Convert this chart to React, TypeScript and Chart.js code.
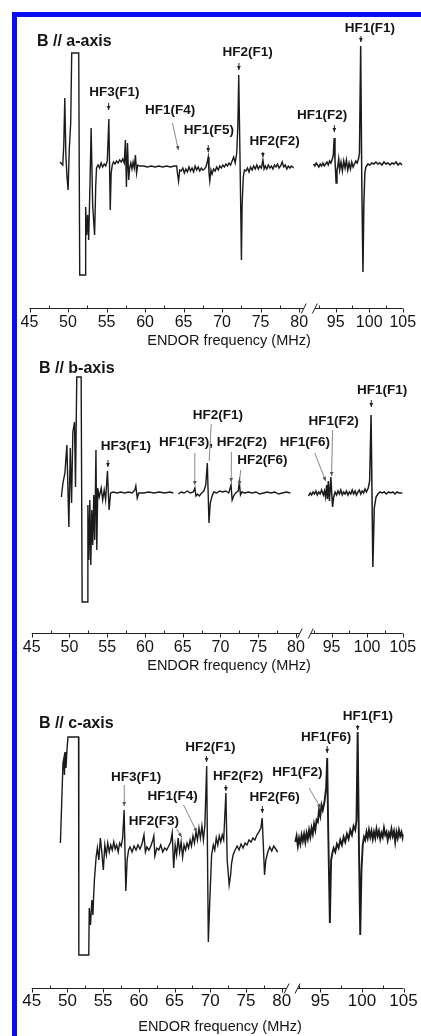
import React, { useEffect, useRef } from 'react';
import { Chart, registerables } from 'chart.js';

Chart.register(...registerables);

const FONT = '"Liberation Sans", Arial, Helvetica, sans-serif';
const INK = '#141414';
const BLUE = '#0c0cf2';
Chart.defaults.font.family = FONT;

// ---------- axis ----------
const majorTicks = [45, 50, 55, 60, 65, 70, 75, 80, 95, 100, 105];
const minorTicks = [47.5, 52.5, 57.5, 62.5, 67.5, 72.5, 77.5, 92.5, 97.5, 102.5];
const axisTitle = 'ENDOR frequency (MHz)';
const panelTitles = ['B // a-axis', 'B // b-axis', 'B // c-axis'];

// ---------- traces: [frequency MHz, intensity (a.u.)] ----------
const aLeft: [number, number | null][] = [[48.94,3],[49.32,0],[49.45,20],[49.58,67],[49.72,10],[49.85,-10],[50.01,-25],[50.16,15],[50.35,42],[50.48,112],[51.39,112],[51.52,-110],[52.23,-110],[52.29,-42],[52.42,-70],[52.55,-50],[52.68,-75],[52.85,-20],[53.0,37],[53.2,-40],[53.45,-70],[53.6,-20],[53.7,-3],[53.9,0],[54.1,-3],[54.3,2],[54.5,-2],[54.7,1],[54.9,-1],[55.1,4],[55.3,46],[55.48,-45],[55.6,-8],[55.75,0],[55.9,3],[56.1,1],[56.3,4],[56.5,2],[56.7,5],[56.9,3],[57.1,6],[57.3,2],[57.45,25],[57.58,-22],[57.72,22],[57.88,-15],[58.0,-3],[58.15,2],[58.3,-4],[58.45,3],[58.6,-3],[58.75,10],[58.9,-8],[59.05,0],[59.3,-1],[59.8,-1],[60.3,-2],[60.8,-1],[61.3,-2],[61.8,-1],[62.3,-2],[62.8,-1],[63.3,-2],[63.8,-1],[64.1,-1],[64.2,-8],[64.35,-16],[64.5,-5],[64.7,-6],[64.9,-3],[65.1,-8],[65.3,-4],[65.5,-7],[65.7,-2],[65.9,-6],[66.1,-3],[66.3,-7],[66.5,-1],[66.7,-5],[66.9,-2],[67.1,-6],[67.3,-3],[67.5,-5],[67.7,-4],[67.9,-2],[68.1,4],[68.2,8],[68.3,-8],[68.4,-16],[68.55,-5],[68.7,-9],[68.9,-4],[69.1,-6],[69.3,-2],[69.5,-5],[69.7,-1],[69.9,-3],[70.1,0],[70.3,-2],[70.5,1],[70.7,-1],[70.9,2],[71.1,0],[71.3,4],[71.5,8],[71.7,2],[71.9,12],[72.05,40],[72.16,90],[72.3,20],[72.45,-60],[72.51,-95],[72.6,-40],[72.75,-12],[72.9,-5],[73.1,-6],[73.3,-3],[73.5,-7],[73.7,-2],[73.9,-5],[74.1,-1],[74.3,-4],[74.5,0],[74.7,-4],[74.9,-1],[75.1,-3],[75.3,5],[75.45,-4],[75.6,-1],[75.8,-4],[76.0,0],[76.2,-3],[76.4,-1],[76.6,-4],[76.8,0],[77.0,-2],[77.2,1],[77.4,-3],[77.6,-1],[77.8,3],[78.0,-2],[78.2,0],[78.4,-4],[78.6,-1],[78.8,-3],[79.0,-1],[79.3,-3]];
const aRight: [number, number | null][] = [[91.7,1],[91.9,-1],[92.1,2],[92.3,0],[92.5,-2],[92.7,1],[92.9,-1],[93.1,2],[93.3,-1],[93.5,1],[93.7,3],[93.9,0],[94.1,4],[94.3,2],[94.5,6],[94.65,10],[94.78,27],[94.9,5],[95.07,-18],[95.2,-5],[95.3,-2],[95.45,6],[95.6,-5],[95.8,3],[96.0,-6],[96.2,4],[96.4,-3],[96.6,5],[96.8,-5],[97.0,2],[97.2,-4],[97.4,3],[97.6,-2],[97.8,1],[98.0,4],[98.2,2],[98.4,6],[98.55,12],[98.73,119],[98.9,-20],[99.07,-107],[99.2,-40],[99.35,-8],[99.5,-2],[99.8,1],[100.1,0],[100.4,2],[100.7,1],[101.0,3],[101.3,1],[101.6,2],[101.9,0],[102.2,3],[102.5,1],[102.8,2],[103.1,0],[103.4,2],[103.7,1],[104.0,3],[104.3,0],[104.6,2],[104.9,0]];

const bLeft: [number, number | null][] = [[48.93,-4],[49.14,10],[49.4,20],[49.66,48],[49.92,-34],[50.11,45],[50.28,-10],[50.45,61],[50.67,71],[50.8,6],[50.97,116],[51.55,116],[51.68,-109],[52.41,-109],[52.44,-12],[52.57,-67],[52.7,-7],[52.83,-72],[52.96,-17],[53.09,-52],[53.22,-2],[53.35,-47],[53.51,43],[53.62,-57],[53.75,5],[53.94,-4],[54.21,5],[54.4,-7],[54.6,3],[54.79,-7],[55.03,22],[55.25,-17],[55.45,0],[55.8,1],[56.3,0],[56.8,1],[57.3,0],[57.8,1],[58.3,0],[58.66,3],[58.79,7],[58.98,-5],[59.18,0],[59.8,0],[60.5,1],[61.2,0],[61.9,1],[62.6,0],[63.3,1],[63.76,0],[64.1,null],[64.42,-1],[64.8,1],[65.2,0],[65.6,2],[66.0,0],[66.4,1],[66.61,5],[66.75,-3],[66.95,-1],[67.2,-3],[67.5,0],[67.8,2],[68.05,8],[68.26,30],[68.48,-30],[68.65,-10],[68.85,-4],[69.1,1],[69.5,0],[69.9,2],[70.3,1],[70.7,2],[71.1,0],[71.4,8],[71.55,-7],[71.75,-3],[72.0,0],[72.35,2],[72.5,11],[72.65,-2],[72.85,1],[73.2,0],[73.7,1],[74.2,0],[74.7,1],[75.2,-1],[75.7,0],[76.2,1],[76.7,0],[77.2,1],[77.7,-1],[78.2,0],[78.7,1],[79.25,0]];
const bRight: [number, number | null][] = [[91.76,-3],[92.0,0],[92.2,-2],[92.4,1],[92.6,-1],[92.8,2],[93.0,-2],[93.2,1],[93.4,-1],[93.6,3],[93.85,-2],[94.0,2],[94.15,-4],[94.31,8],[94.42,-6],[94.54,12],[94.7,-8],[94.9,16],[95.02,0],[95.14,-14],[95.3,-4],[95.5,1],[95.7,-2],[95.9,2],[96.1,-1],[96.3,3],[96.5,-2],[96.7,1],[96.9,-1],[97.1,2],[97.3,-2],[97.5,1],[97.7,-1],[97.9,3],[98.1,-1],[98.3,2],[98.5,-2],[98.7,1],[98.9,3],[99.1,-1],[99.3,2],[99.5,0],[99.7,4],[99.9,1],[100.15,5],[100.35,12],[100.55,78],[100.8,-74],[101.0,-15],[101.25,-4],[101.5,-1],[101.8,1],[102.1,0],[102.4,1],[102.7,-1],[103.0,1],[103.3,0],[103.6,1],[103.9,-1],[104.2,1],[104.5,0],[104.96,0]];

const cLeft: [number, number | null][] = [[49.02,7],[49.38,87],[49.51,92],[49.58,75],[49.69,98],[49.8,82],[49.94,100],[50.08,113],[51.56,113],[51.6,-105],[52.99,-105],[53.06,-58],[53.23,-75],[53.43,-50],[53.57,-65],[53.68,-45],[53.78,-30],[54.02,-7],[54.2,2],[54.4,-10],[54.61,12],[54.79,0],[55.03,-20],[55.24,5],[55.45,-5],[55.65,7],[55.86,-2],[56.07,5],[56.28,0],[56.49,8],[56.69,1],[56.9,5],[57.11,-2],[57.32,7],[57.53,4],[57.73,12],[57.94,40],[58.18,-41],[58.36,-10],[58.57,0],[58.77,3],[59.05,-2],[59.33,4],[59.61,0],[59.88,5],[60.16,1],[60.44,6],[60.72,15],[60.92,-2],[61.13,3],[61.41,0],[61.69,4],[61.96,10],[62.1,14],[62.24,-6],[62.52,2],[62.8,0],[63.07,5],[63.35,-2],[63.63,2],[63.91,0],[64.18,4],[64.46,8],[64.67,17],[64.88,-18],[65.09,5],[65.29,-5],[65.5,12],[65.71,-2],[65.92,8],[66.13,-7],[66.33,5],[66.54,0],[66.75,7],[66.96,2],[67.17,10],[67.37,4],[67.58,14],[67.79,7],[68.0,18],[68.21,10],[68.42,22],[68.62,12],[68.83,24],[69.04,10],[69.25,25],[69.5,84],[69.73,-92],[69.94,-50],[70.19,-5],[70.43,5],[70.63,0],[70.84,12],[71.05,5],[71.26,14],[71.47,8],[71.68,15],[71.88,10],[72.19,57],[72.37,-10],[72.65,-35],[72.85,-25],[72.99,-13],[73.2,-5],[73.48,0],[73.76,4],[74.03,0],[74.31,6],[74.59,2],[74.87,7],[75.14,5],[75.42,10],[75.7,8],[75.98,12],[76.25,10],[76.53,15],[76.81,18],[77.09,22],[77.27,32],[77.43,5],[77.6,-25],[77.78,-10],[78.06,-2],[78.33,3],[78.61,-1],[78.89,4],[79.17,1],[79.44,-2]];
const cRight: [number, number | null][] = [[92.0,8],[92.15,14],[92.3,4],[92.45,12],[92.6,6],[92.75,15],[92.9,9],[93.05,16],[93.2,8],[93.35,17],[93.5,11],[93.65,20],[93.8,13],[93.95,22],[94.1,16],[94.25,26],[94.4,20],[94.55,30],[94.7,28],[94.85,40],[95.0,34],[95.15,45],[95.3,40],[95.5,48],[95.7,62],[95.83,92],[95.95,20],[96.15,-73],[96.3,-10],[96.45,-3],[96.6,2],[96.8,-2],[97.0,6],[97.2,2],[97.4,10],[97.6,5],[97.8,13],[98.0,8],[98.2,16],[98.4,11],[98.6,20],[98.8,15],[99.0,24],[99.2,20],[99.35,30],[99.49,118],[99.65,0],[99.8,-85],[99.95,-20],[100.1,5],[100.25,13],[100.4,10],[100.55,18],[100.7,12],[100.85,20],[101.0,13],[101.15,19],[101.3,11],[101.45,18],[101.6,12],[101.75,21],[101.9,14],[102.05,19],[102.2,11],[102.35,17],[102.5,13],[102.65,22],[102.8,15],[102.95,18],[103.1,10],[103.25,17],[103.4,13],[103.55,21],[103.7,14],[103.85,19],[104.0,8],[104.15,18],[104.3,12],[104.45,20],[104.6,14],[104.75,18],[104.9,12],[105.0,16]];

// ---------- peak assignments: text, label MHz, label intensity, arrows [x1,y1,x2,y2], mark ----------
type Mark = 'tip' | 'lead' | 'line';
type Note = { text: string; x: number; y: number; arrows: number[][]; mark: Mark };

const aNotes: Note[] = [
  { text: 'HF3(F1)', x: 56.03, y: 73, arrows: [[55.27, 62, 55.27, 55]], mark: 'tip' },
  { text: 'HF1(F4)', x: 63.26, y: 55, arrows: [[63.56, 42, 64.33, 15]], mark: 'lead' },
  { text: 'HF1(F5)', x: 68.29, y: 35, arrows: [[68.2, 20, 68.2, 13]], mark: 'tip' },
  { text: 'HF2(F1)', x: 73.32, y: 113, arrows: [[72.18, 102, 72.18, 95]], mark: 'tip' },
  { text: 'HF2(F2)', x: 76.81, y: 24, arrows: [[75.3, 13, 75.3, 8]], mark: 'tip' },
  { text: 'HF1(F2)', x: 93.0, y: 50, arrows: [[94.8, 40, 94.8, 33]], mark: 'tip' },
  { text: 'HF1(F1)', x: 100.11, y: 137, arrows: [[98.76, 129, 98.76, 123]], mark: 'tip' },
];
const bNotes: Note[] = [
  { text: 'HF3(F1)', x: 57.48, y: 47, arrows: [[55.1, 33, 55.1, 26]], mark: 'tip' },
  { text: 'HF1(F3), HF2(F2)', x: 69.0, y: 51, arrows: [[66.6, 40, 66.6, 8], [71.45, 41, 71.42, 11]], mark: 'lead' },
  { text: 'HF2(F1)', x: 69.66, y: 78, arrows: [[68.78, 69, 68.5, 32]], mark: 'line' },
  { text: 'HF2(F6)', x: 75.56, y: 33, arrows: [[72.67, 23, 72.5, 8]], mark: 'lead' },
  { text: 'HF1(F6)', x: 91.25, y: 51, arrows: [[92.64, 40, 94.17, 12]], mark: 'lead' },
  { text: 'HF1(F2)', x: 95.28, y: 72, arrows: [[95.14, 63, 95.0, 17]], mark: 'lead' },
  { text: 'HF1(F1)', x: 102.1, y: 103, arrows: [[100.58, 93, 100.58, 86]], mark: 'tip' },
];
const cNotes: Note[] = [
  { text: 'HF1(F1)', x: 100.71, y: 133.5, arrows: [[99.49, 125, 99.49, 120]], mark: 'tip' },
  { text: 'HF1(F6)', x: 95.71, y: 113, arrows: [[95.83, 104, 95.83, 97]], mark: 'tip' },
  { text: 'HF2(F1)', x: 70.02, y: 103, arrows: [[69.48, 94, 69.48, 88]], mark: 'tip' },
  { text: 'HF2(F2)', x: 73.91, y: 74, arrows: [[72.19, 65, 72.19, 59]], mark: 'tip' },
  { text: 'HF1(F2)', x: 92.26, y: 78, arrows: [[93.65, 62, 95.04, 42]], mark: 'lead' },
  { text: 'HF3(F1)', x: 59.61, y: 73, arrows: [[57.96, 65, 57.96, 44]], mark: 'lead' },
  { text: 'HF1(F4)', x: 64.74, y: 54, arrows: [[66.27, 45, 68.11, 18]], mark: 'lead' },
  { text: 'HF2(F6)', x: 79.02, y: 53, arrows: [[77.3, 44, 77.3, 37]], mark: 'tip' },
  { text: 'HF2(F3)', x: 62.1, y: 29, arrows: [[65.29, 21, 65.99, 13]], mark: 'lead' },
];

// ---------- layout of the three panels (page pixels) ----------
const panels = [
  { top: 16, height: 340, p45: 29.5, p95: 337.5, p105: 405, kL: 7.75, kR: 6.75, breakL: 80.6, breakR: 91.9,
    chartTop: 30, axisY: 308, yMin: -143, yMax: 135, tickSize: 16, tickPad: 4.9, titleCx: 229, titleCy: 341,
    title: panelTitles[0], titleX: 45.97, titleY: 123.5, left: aLeft, right: aRight, notes: aNotes, rightWidth: 1.5 },
  { top: 352, height: 330, p45: 31.7, p95: 335, p105: 407, kL: 7.637, kR: 7.2, breakL: 80.5, breakR: 92.08,
    chartTop: 360, axisY: 632.7, yMin: -139.7, yMax: 133, tickSize: 16, tickPad: 4.9, titleCx: 229, titleCy: 666,
    title: panelTitles[1], titleX: 45.96, titleY: 124.5, left: bLeft, right: bRight, notes: bNotes, rightWidth: 1.5 },
  { top: 690, height: 346, p45: 31.7, p95: 323, p105: 407, kL: 7.209, kR: 8.4, breakL: 80.69, breakR: 92.26,
    chartTop: 700, axisY: 988, yMin: -138, yMax: 150, tickSize: 17, tickPad: 3.3, titleCx: 220, titleCy: 1027,
    title: panelTitles[2], titleX: 46.01, titleY: 126, left: cLeft, right: cRight, notes: cNotes, rightWidth: 1.9 },
];
const AXIS_H = 30;

function drawArrow(ctx: CanvasRenderingContext2D, x1: number, y1: number, x2: number, y2: number, mark: Mark) {
  const col = mark === 'tip' ? '#222' : '#555';
  ctx.strokeStyle = col;
  ctx.fillStyle = col;
  ctx.lineWidth = mark === 'tip' ? 1 : 0.7;
  ctx.beginPath();
  ctx.moveTo(x1, y1);
  ctx.lineTo(x2, y2);
  ctx.stroke();
  if (mark === 'line') return;
  const a = Math.atan2(y2 - y1, x2 - x1);
  const L = 4, W = 1.9;
  ctx.beginPath();
  ctx.moveTo(x2, y2);
  ctx.lineTo(x2 - L * Math.cos(a) + W * Math.sin(a), y2 - L * Math.sin(a) - W * Math.cos(a));
  ctx.lineTo(x2 - L * Math.cos(a) - W * Math.sin(a), y2 - L * Math.sin(a) + W * Math.cos(a));
  ctx.closePath();
  ctx.fill();
}

function PanelChart({ p }: { p: any }) {
  const ref = useRef<HTMLCanvasElement>(null);
  useEffect(() => {
    const mid = (p.breakL + p.breakR) / 2;
    const u = (f: number) => (f <= mid ? (f - 45) * p.kL : (p.p95 - p.p45) + (f - 95) * p.kR);
    const pts = (arr: [number, number | null][]) => arr.map(([f, v]) => ({ x: u(f), y: v }));

    const decor = {
      id: 'decor',
      afterDraw(chart: any) {
        const ctx: CanvasRenderingContext2D = chart.ctx;
        const xs = chart.scales.x, ys = chart.scales.y;
        const X = (f: number) => xs.getPixelForValue(u(f));
        const Y = (v: number) => ys.getPixelForValue(v);
        const ay = Math.round(xs.top) + 0.5;
        ctx.save();
        ctx.strokeStyle = '#222';
        ctx.lineWidth = 1;
        ctx.beginPath();
        ctx.moveTo(X(45), ay); ctx.lineTo(X(p.breakL), ay);
        ctx.moveTo(X(p.breakR), ay); ctx.lineTo(X(105), ay);
        for (const b of [p.breakL, p.breakR]) {
          const bx = X(b);
          ctx.moveTo(bx - 2.5, ay + 5); ctx.lineTo(bx + 2.5, ay - 5);
        }
        for (const m of majorTicks) { const tx = Math.round(X(m)) + 0.5; ctx.moveTo(tx, ay); ctx.lineTo(tx, ay + 4); }
        for (const m of minorTicks) {
          if (m > p.breakL && m < p.breakR) continue;
          const tx = Math.round(X(m)) + 0.5; ctx.moveTo(tx, ay); ctx.lineTo(tx, ay - 3);
        }
        ctx.stroke();

        ctx.fillStyle = INK;
        ctx.textBaseline = 'middle';
        ctx.textAlign = 'center';
        ctx.font = `14.5px ${FONT}`;
        ctx.fillText(axisTitle, p.titleCx, p.titleCy - p.top);

        ctx.textAlign = 'left';
        ctx.font = `bold 16px ${FONT}`;
        ctx.fillText(p.title, X(p.titleX), Y(p.titleY));

        for (const n of p.notes as Note[]) {
          for (const a of n.arrows) drawArrow(ctx, X(a[0]), Y(a[1]), X(a[2]), Y(a[3]), n.mark);
          ctx.fillStyle = INK;
          ctx.textAlign = 'center';
          ctx.textBaseline = 'middle';
          ctx.font = `bold 13.5px ${FONT}`;
          ctx.fillText(n.text, X(n.x), Y(n.y));
        }
        ctx.restore();
      },
    };

    const ds = (arr: [number, number | null][], w: number) => ({
      data: pts(arr), borderColor: '#1b1b1b', borderWidth: w, pointRadius: 0, tension: 0, spanGaps: false, fill: false,
    });

    const chart = new Chart(ref.current as HTMLCanvasElement, {
      type: 'line',
      data: { datasets: [ds(p.left, 1.4), ds(p.right, p.rightWidth)] },
      options: {
        responsive: false,
        animation: false,
        devicePixelRatio: 1,
        events: [],
        layout: {
          padding: {
            left: p.p45, right: 421 - p.p105, top: p.chartTop - p.top,
            bottom: p.top + p.height - p.axisY - AXIS_H,
          },
        },
        plugins: { legend: { display: false }, tooltip: { enabled: false }, title: { display: false } },
        scales: {
          x: {
            type: 'linear', min: 0, max: p.p105 - p.p45,
            grid: { display: false, drawTicks: false }, border: { display: false },
            afterBuildTicks: (s: any) => { s.ticks = majorTicks.map((m) => ({ value: u(m) })); },
            afterFit: (s: any) => { s.height = AXIS_H; },
            ticks: {
              autoSkip: false, maxRotation: 0, minRotation: 0, padding: p.tickPad, color: INK,
              font: { family: FONT, size: p.tickSize },
              callback: (_v: any, i: number) => String(majorTicks[i]),
            },
          },
          y: { display: false, min: p.yMin, max: p.yMax },
        },
      } as any,
      plugins: [decor],
    });
    return () => chart.destroy();
  }, []);
  return (
    <canvas ref={ref} width={421} height={p.height}
      style={{ position: 'absolute', left: 0, top: p.top, width: 421, height: p.height }} />
  );
}

export default function App() {
  return (
    <div style={{ position: 'absolute', left: 0, top: 0, width: 421, height: 1036, overflow: 'hidden', background: '#fff' }}>
      {panels.map((p, i) => <PanelChart key={i} p={p} />)}
      <div style={{ position: 'absolute', left: 12, top: 12, width: 409, height: 4.5, background: BLUE }} />
      <div style={{ position: 'absolute', left: 12, top: 12, width: 4.5, height: 1024, background: BLUE }} />
    </div>
  );
}
